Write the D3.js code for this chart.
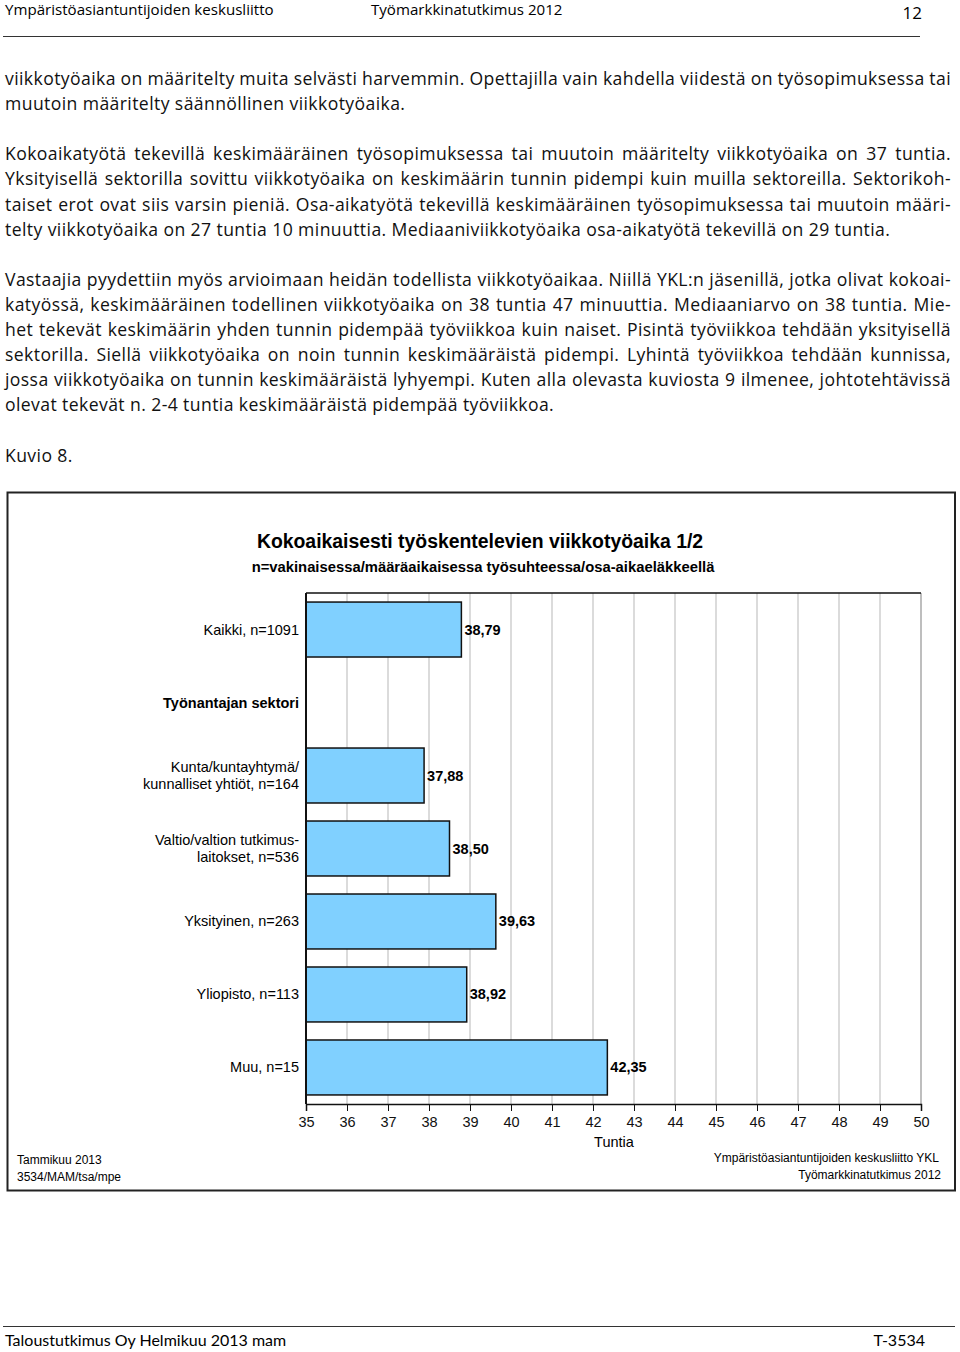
<!DOCTYPE html>
<html>
<head>
<meta charset="utf-8">
<script src="https://cdn.jsdelivr.net/npm/d3@7"></script>
<style>
  body { margin: 0; background: #fff; }
  svg { display: block; }
</style>
</head>
<body>
<svg id="page" width="960" height="1352"></svg>
<script>
// Chart data
const categories = [
  'Kaikki, n=1091',
  'Työnantajan sektori',
  'Kunta/kuntayhtymä/\nkunnalliset yhtiöt, n=164',
  'Valtio/valtion tutkimus-\nlaitokset, n=536',
  'Yksityinen, n=263',
  'Yliopisto, n=113',
  'Muu, n=15',
]
const hours = [38.79, null, 37.88, 38.5, 39.63, 38.92, 42.35]
const valueLabels = ['38,79', '', '37,88', '38,50', '39,63', '38,92', '42,35']
const headingRows = ['Työnantajan sektori']
const xTicks = d3.range(35, 51)

// Page text
const bodyLines = [
  ['viikkotyöaika on määritelty muita selvästi harvemmin. Opettajilla vain kahdella viidestä on työsopimuksessa tai', true],
  ['muutoin määritelty säännöllinen viikkotyöaika.', false],
  null,
  ['Kokoaikatyötä tekevillä keskimääräinen työsopimuksessa tai muutoin määritelty viikkotyöaika on 37 tuntia.', true],
  ['Yksityisellä sektorilla sovittu viikkotyöaika on keskimäärin tunnin pidempi kuin muilla sektoreilla. Sektorikoh-', true],
  ['taiset erot ovat siis varsin pieniä. Osa-aikatyötä tekevillä keskimääräinen työsopimuksessa tai muutoin määri-', true],
  ['telty viikkotyöaika on 27 tuntia 10 minuuttia. Mediaaniviikkotyöaika osa-aikatyötä tekevillä on 29 tuntia.', false],
  null,
  ['Vastaajia pyydettiin myös arvioimaan heidän todellista viikkotyöaikaa. Niillä YKL:n jäsenillä, jotka olivat kokoai-', true],
  ['katyössä, keskimääräinen todellinen viikkotyöaika on 38 tuntia 47 minuuttia. Mediaaniarvo on 38 tuntia. Mie-', true],
  ['het tekevät keskimäärin yhden tunnin pidempää työviikkoa kuin naiset. Pisintä työviikkoa tehdään yksityisellä', true],
  ['sektorilla. Siellä viikkotyöaika on noin tunnin keskimääräistä pidempi. Lyhintä työviikkoa tehdään kunnissa,', true],
  ['jossa viikkotyöaika on tunnin keskimääräistä lyhyempi. Kuten alla olevasta kuviosta 9 ilmenee, johtotehtävissä', true],
  ['olevat tekevät n. 2-4 tuntia keskimääräistä pidempää työviikkoa.', false],
  null,
  ['Kuvio 8.', false],
]

const svg = d3.select('#page')
const bodyFont = '"Open Sans", sans-serif'
const chartFont = '"Liberation Sans", Arial, sans-serif'

// Header
svg.append('text').attr('x', 5).attr('y', 15)
  .attr('font-family', bodyFont).attr('font-size', '15.1px')
  .text('Ympäristöasiantuntijoiden keskusliitto')
svg.append('text').attr('x', 371).attr('y', 15)
  .attr('font-family', bodyFont).attr('font-size', '15.1px')
  .text('Työmarkkinatutkimus 2012')
svg.append('text').attr('x', 922).attr('y', 19)
  .attr('text-anchor', 'end')
  .attr('font-family', bodyFont).attr('font-size', '17px')
  .text('12')
svg.append('line')
  .attr('x1', 3).attr('x2', 920).attr('y1', 36.5).attr('y2', 36.5)
  .attr('stroke', '#333').attr('stroke-width', 1)

// Body text, justified lines get their word spacing adjusted to fill the line
const textLeft = 5
const textRight = 951
bodyLines.forEach((line, i) => {
  if (!line) return
  let t = svg.append('text')
    .attr('x', textLeft).attr('y', 85 + i * 25.1)
    .attr('font-family', bodyFont).attr('font-size', '17.6px')
    .attr('letter-spacing', '0.4px')
    .attr('fill', '#111')
    .text(line[0])
  if (line[1]) {
    let natural = t.node().getComputedTextLength()
    let gaps = line[0].split(' ').length - 1
    t.style('word-spacing', `${(textRight - textLeft - natural) / gaps}px`)
  }
})

// Chart frame
svg.append('rect')
  .attr('x', 7.5).attr('y', 492.5).attr('width', 947.5).attr('height', 698)
  .attr('fill', 'none').attr('stroke', '#222').attr('stroke-width', 2)

svg.append('text').attr('x', 480).attr('y', 548)
  .attr('text-anchor', 'middle')
  .attr('font-family', chartFont).attr('font-size', '19.4px').attr('font-weight', 'bold')
  .text('Kokoaikaisesti työskentelevien viikkotyöaika 1/2')
svg.append('text').attr('x', 483).attr('y', 572)
  .attr('text-anchor', 'middle')
  .attr('font-family', chartFont).attr('font-size', '14.8px').attr('font-weight', 'bold')
  .text('n=vakinaisessa/määräaikaisessa työsuhteessa/osa-aikaeläkkeellä')

// Scales
const x = d3.scaleLinear().domain([35, 50]).range([306, 921])
const y = d3.scaleBand().domain(categories).range([593, 1104]).paddingInner(0.247).paddingOuter(0.124)

const plot = svg.append('g')

// Gridlines
plot.append('g')
  .selectAll('line')
  .data(xTicks.slice(1))
  .enter()
  .append('line')
  .attr('x1', (d) => x(d)).attr('x2', (d) => x(d))
  .attr('y1', 593).attr('y2', 1104)
  .attr('stroke', (d) => (d === 50 ? '#a8a8a8' : '#cfcfcf'))
  .attr('stroke-width', 1.5)

// Top border
plot.append('line')
  .attr('x1', x(35)).attr('x2', x(50)).attr('y1', 593).attr('y2', 593)
  .attr('stroke', '#111').attr('stroke-width', 1.5)

// Bars
const rows = categories.map((c, i) => ({ cat: c, value: hours[i], label: valueLabels[i] }))
plot.append('g')
  .selectAll('rect')
  .data(rows.filter((d) => d.value !== null))
  .enter()
  .append('rect')
  .attr('x', x(35))
  .attr('y', (d) => y(d.cat))
  .attr('width', (d) => x(d.value) - x(35))
  .attr('height', y.bandwidth())
  .attr('fill', '#80d0ff')
  .attr('stroke', '#111')
  .attr('stroke-width', 1.5)

// Value labels
plot.append('g')
  .selectAll('text')
  .data(rows.filter((d) => d.value !== null))
  .enter()
  .append('text')
  .attr('x', (d) => x(d.value) + 3)
  .attr('y', (d) => y(d.cat) + y.bandwidth() / 2 + 5)
  .attr('font-family', chartFont).attr('font-size', '14.5px').attr('font-weight', 'bold')
  .text((d) => d.label)

// X axis
const xAxis = plot.append('g')
  .attr('transform', 'translate(0,1104)')
  .call(d3.axisBottom(x).tickValues(xTicks).tickSize(7).tickPadding(6))
xAxis.select('.domain').attr('stroke', '#111').attr('stroke-width', 1.5)
xAxis.selectAll('.tick line').attr('stroke', '#111').attr('stroke-width', 1)
xAxis.selectAll('.tick text')
  .attr('font-family', chartFont).attr('font-size', '14.5px').attr('fill', '#111')

svg.append('text').attr('x', 614).attr('y', 1147)
  .attr('text-anchor', 'middle')
  .attr('font-family', chartFont).attr('font-size', '14.5px')
  .text('Tuntia')

// Y axis line and category labels
plot.append('line')
  .attr('x1', x(35)).attr('x2', x(35)).attr('y1', 593).attr('y2', 1104)
  .attr('stroke', '#111').attr('stroke-width', 2)

const catLabels = plot.append('g')
  .selectAll('text')
  .data(categories)
  .enter()
  .append('text')
  .attr('text-anchor', 'end')
  .attr('font-family', chartFont)
  .attr('font-size', '14.5px')
  .attr('font-weight', (d) => (headingRows.includes(d) ? 'bold' : 'normal'))
catLabels.each(function (d) {
  let parts = d.split('\n')
  let mid = y(d) + y.bandwidth() / 2
  let top = mid - ((parts.length - 1) * 17) / 2 + 5
  parts.forEach((p, j) => {
    d3.select(this).append('tspan')
      .attr('x', 299)
      .attr('y', top + j * 17)
      .text(p)
  })
})

// Chart footnotes
svg.append('text').attr('x', 17).attr('y', 1164)
  .attr('font-family', chartFont).attr('font-size', '12px')
  .text('Tammikuu 2013')
svg.append('text').attr('x', 17).attr('y', 1181)
  .attr('font-family', chartFont).attr('font-size', '12px')
  .text('3534/MAM/tsa/mpe')
svg.append('text').attr('x', 939).attr('y', 1162)
  .attr('text-anchor', 'end')
  .attr('font-family', chartFont).attr('font-size', '12px')
  .text('Ympäristöasiantuntijoiden keskusliitto YKL')
svg.append('text').attr('x', 941).attr('y', 1179)
  .attr('text-anchor', 'end')
  .attr('font-family', chartFont).attr('font-size', '12px')
  .text('Työmarkkinatutkimus 2012')

// Page footer
svg.append('line')
  .attr('x1', 3).attr('x2', 955).attr('y1', 1326.5).attr('y2', 1326.5)
  .attr('stroke', '#333').attr('stroke-width', 1)
svg.append('text').attr('x', 5).attr('y', 1346)
  .attr('font-family', 'Lato, sans-serif').attr('font-size', '16px')
  .text('Taloustutkimus Oy Helmikuu 2013 mam')
svg.append('text').attr('x', 925).attr('y', 1346)
  .attr('text-anchor', 'end')
  .attr('font-family', 'Lato, sans-serif').attr('font-size', '16px')
  .text('T-3534')
</script>
</body>
</html>
